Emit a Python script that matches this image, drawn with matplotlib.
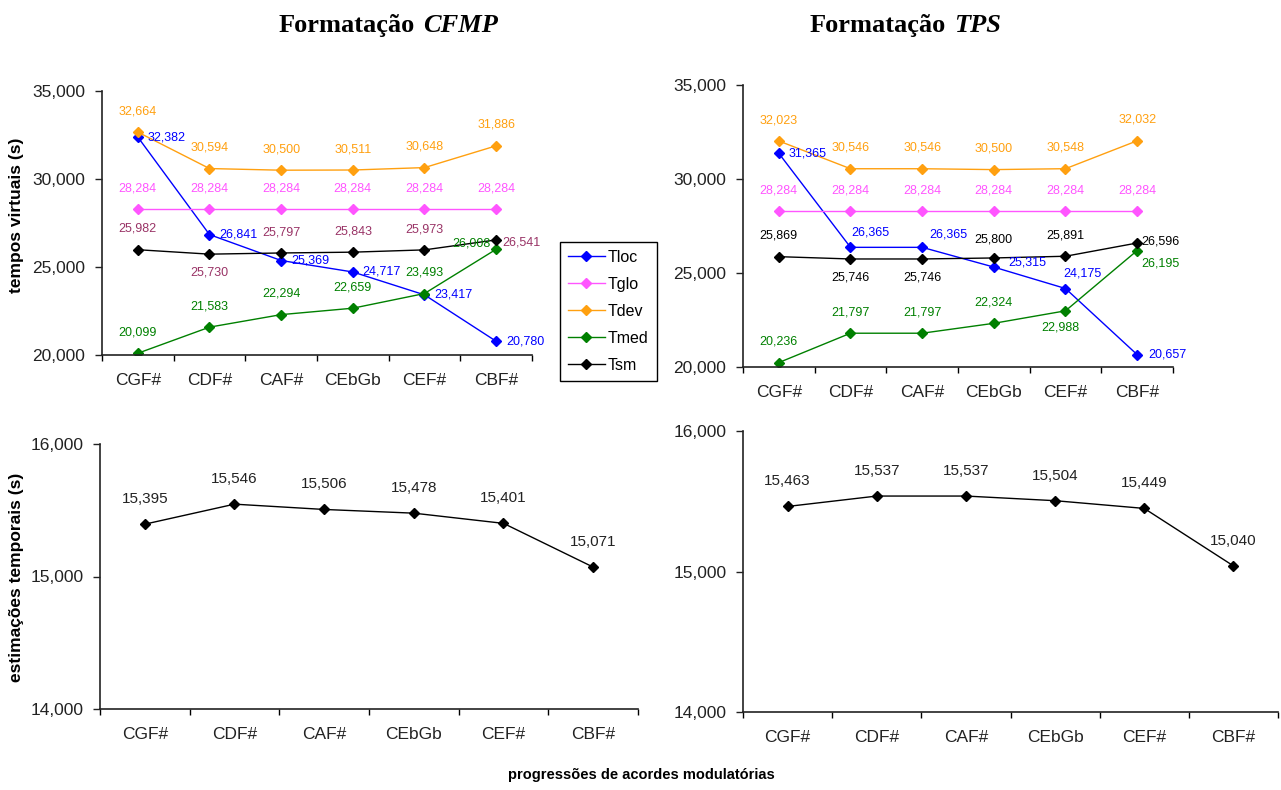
import matplotlib
matplotlib.use('agg')
import matplotlib.pyplot as plt
from matplotlib.ticker import FuncFormatter, FixedLocator

plt.rcParams['font.family'] = ['Liberation Sans', 'DejaVu Sans']

W, H = 1281, 790

chords = ['CGF#', 'CDF#', 'CAF#', 'CEbGb', 'CEF#', 'CBF#']
series = ['Tloc', 'Tglo', 'Tdev', 'Tmed', 'Tsm']

# tempos virtuais, formatacao CFMP
cfmp_tloc = [32382, 26841, 25369, 24717, 23417, 20780]
cfmp_tglo = [28284, 28284, 28284, 28284, 28284, 28284]
cfmp_tdev = [32664, 30594, 30500, 30511, 30648, 31886]
cfmp_tmed = [20099, 21583, 22294, 22659, 23493, 26008]
cfmp_tsm = [25982, 25730, 25797, 25843, 25973, 26541]

# tempos virtuais, formatacao TPS
tps_tloc = [31365, 26365, 26365, 25315, 24175, 20657]
tps_tglo = [28284, 28284, 28284, 28284, 28284, 28284]
tps_tdev = [32023, 30546, 30546, 30500, 30548, 32032]
tps_tmed = [20236, 21797, 21797, 22324, 22988, 26195]
tps_tsm = [25869, 25746, 25746, 25800, 25891, 26596]

# estimacoes temporais
cfmp_est = [15395, 15546, 15506, 15478, 15401, 15071]
tps_est = [15463, 15537, 15537, 15504, 15449, 15040]

colors = {'Tloc': '#0000FF', 'Tglo': '#FF55FF', 'Tdev': '#FFA010',
          'Tmed': '#008000', 'Tsm': '#000000'}

# label offsets in points (dx, dy)
A = (0, 15)     # above
B = (0, -13)    # below
R = (21, 0)     # right
off_cfmp = {
    'Tloc': [R, R, R, R, R, R],
    'Tglo': [A] * 6,
    'Tdev': [A] * 6,
    'Tmed': [A, A, A, A, A, (-18, 4)],
    'Tsm': [A, B, A, A, A, (18, -2)],
}
off_tps = {
    'Tloc': [R, (14, 11), (19, 9), (24, 3), (12, 11), (22, 0)],
    'Tglo': [A] * 6,
    'Tdev': [A] * 6,
    'Tmed': [A, A, A, A, (-4, -12), (17, -9)],
    'Tsm': [A, B, B, (0, 13), A, (17, 1)],
}

fmt = FuncFormatter(lambda v, p: '{:,.0f}'.format(v))


def rect(x0, y0, x1, y1):
    return [x0 / W, 1 - y1 / H, (x1 - x0) / W, (y1 - y0) / H]


def style_axes(ax, lo, hi, step):
    ax.set_xlim(-0.5, 5.5)
    ax.set_ylim(lo, hi)
    ax.spines['top'].set_visible(False)
    ax.spines['right'].set_visible(False)
    for s in ('left', 'bottom'):
        ax.spines[s].set_linewidth(1.2)
        ax.spines[s].set_color('#222222')
    ax.set_yticks(range(lo, hi + 1, step))
    ax.yaxis.set_major_formatter(fmt)
    ax.set_xticks(range(len(chords)))
    ax.set_xticklabels(chords)
    ax.xaxis.set_minor_locator(FixedLocator([i - 0.5 for i in range(len(chords) + 1)]))
    ax.tick_params(axis='x', which='major', length=0, pad=13, labelsize=12.5, colors='#222222')
    ax.tick_params(axis='x', which='minor', length=4, width=1, direction='out')
    ax.tick_params(axis='y', length=5, width=1, pad=7, labelsize=12.5, colors='#222222')


fig = plt.figure(figsize=(W / 100, H / 100), dpi=100)

top = [
    (rect(102, 91, 532, 355),
     [cfmp_tloc, cfmp_tglo, cfmp_tdev, cfmp_tmed, cfmp_tsm], off_cfmp, '#993366'),
    (rect(743, 85, 1173, 367),
     [tps_tloc, tps_tglo, tps_tdev, tps_tmed, tps_tsm], off_tps, '#000000'),
]
handles = []
for k, (r, data, offs, sm_label) in enumerate(top):
    ax = fig.add_axes(r)
    x = range(len(chords))
    for name, vals in zip(series, data):
        c = colors[name]
        ln, = ax.plot(x, vals, '-D', color=c, lw=1, ms=5, label=name)
        if k == 0:
            handles.append(ln)
        lc = sm_label if name == 'Tsm' else c
        for i, v in enumerate(vals):
            ax.annotate('{:,}'.format(v), (i, v), xytext=offs[name][i],
                        textcoords='offset points', ha='center', va='center',
                        fontsize=9, color=lc)
    style_axes(ax, 20000, 35000, 5000)

bottom = [(rect(100, 444, 638, 709), cfmp_est), (rect(743, 431, 1278, 712), tps_est)]
for r, vals in bottom:
    ax = fig.add_axes(r)
    ax.plot(range(len(chords)), vals, '-D', color='black', lw=1, ms=5)
    for i, v in enumerate(vals):
        ax.annotate('{:,}'.format(v), (i, v), xytext=(0, 18),
                    textcoords='offset points', ha='center', va='center',
                    fontsize=11, color='#222222')
    style_axes(ax, 14000, 16000, 1000)

fig.legend(handles=handles, labels=series, loc='upper left',
           bbox_to_anchor=(560 / W, 1 - 242 / H), borderaxespad=0, fontsize=11.5,
           frameon=True, fancybox=False, edgecolor='black', framealpha=1,
           handlelength=2.3, borderpad=0.5, labelspacing=0.75, handletextpad=0.2)

# titulos
serif = ['Liberation Serif', 'DejaVu Serif']
for xa, xb, word in [(415, 423, 'CFMP'), (946, 954, 'TPS')]:
    fig.text(xa / W, 1 - 32 / H, 'Formatação', family=serif, weight='bold',
             fontsize=19, ha='right', va='baseline')
    fig.text(xb / W, 1 - 32 / H, word, family=serif, weight='bold',
             style='italic', fontsize=19, ha='left', va='baseline')

fig.text(17 / W, 1 - 215 / H, 'tempos virtuais (s)', rotation=90, weight='bold',
         fontsize=12.5, ha='center', va='center')
fig.text(17 / W, 1 - 577 / H, 'estimações temporais (s)', rotation=90, weight='bold',
         fontsize=12.5, ha='center', va='center')
fig.text(641 / W, 1 - 775 / H, 'progressões de acordes modulatórias', weight='bold',
         fontsize=10.5, ha='center', va='center')

fig.savefig('out.png', dpi=100)
